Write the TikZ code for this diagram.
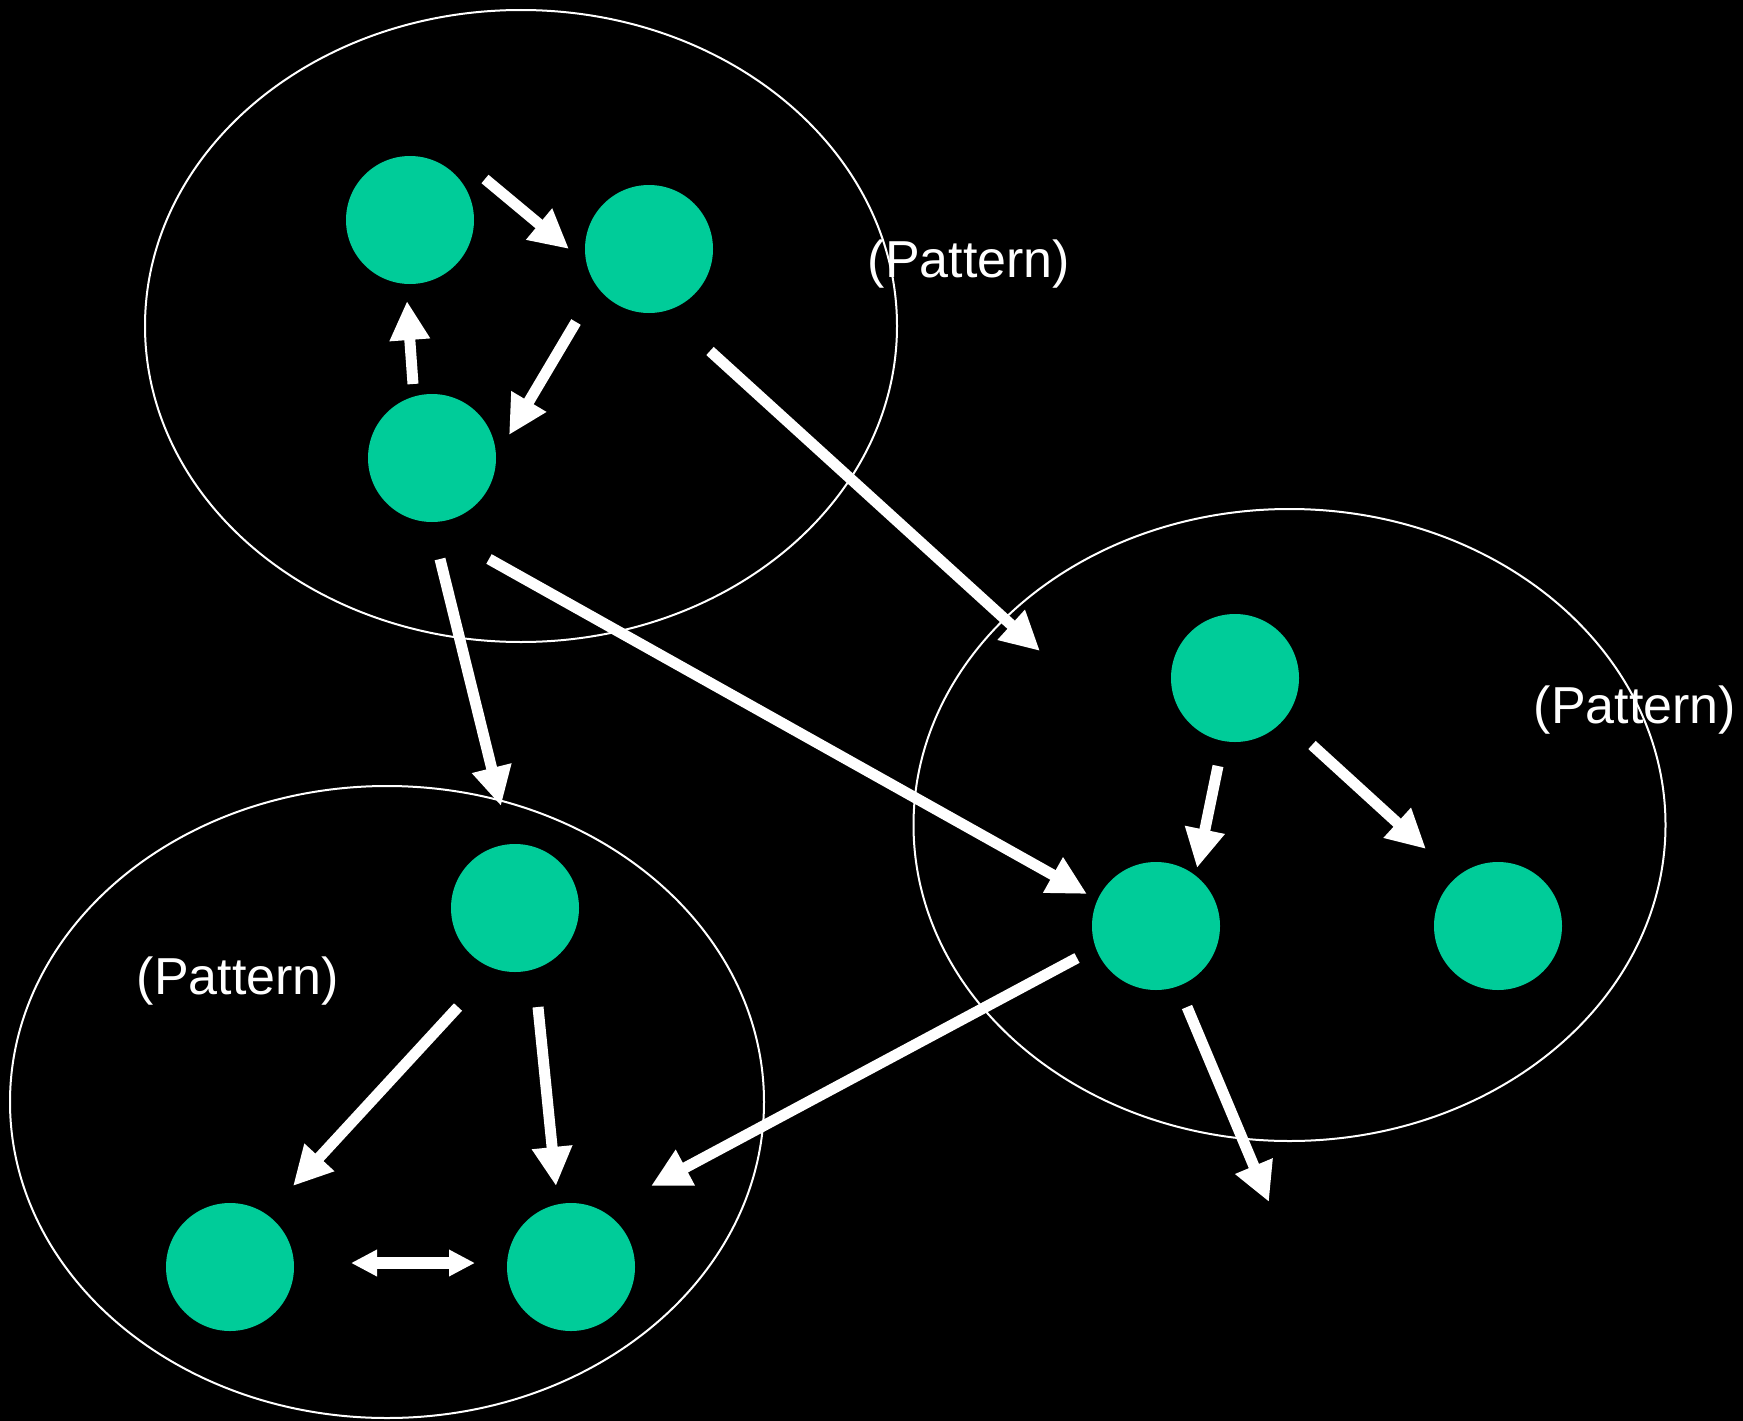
\documentclass[tikz,border=0pt]{standalone}
\usepackage{fontspec}
\setmainfont{Liberation Sans}
\usetikzlibrary{arrows.meta}
\definecolor{nodegreen}{RGB}{0,204,153}
\tikzset{
  group/.style={draw=white, line width=2pt},
  dot/.style={circle, fill=nodegreen, minimum size=128pt, inner sep=0pt},
  flow/.style={draw=white, line width=11pt, -{Triangle[length=39pt,width=38pt]}},
  both/.style={draw=white, line width=12pt, {Triangle[length=26pt,width=25pt]}-{Triangle[length=26pt,width=25pt]}},
  lbl/.style={text=white, font=\fontsize{52}{60}\selectfont, inner sep=0pt}
}
\begin{document}
\begin{tikzpicture}[x=1pt,y=-1pt]
\fill[black] (0,0) rectangle (1743,1421);
\useasboundingbox (0,0) rectangle (1743,1421);
% groups
\draw[group] (521,326) ellipse [x radius=376, y radius=316];
\draw[group] (1289.5,825) ellipse [x radius=376, y radius=316];
\draw[group] (387,1102) ellipse [x radius=377, y radius=316];
% nodes
\node[dot] (a1) at (410,220) {};
\node[dot] (a2) at (649,249) {};
\node[dot] (a3) at (432,458) {};
\node[dot] (b1) at (1235,678) {};
\node[dot] (b2) at (1156,926) {};
\node[dot] (b3) at (1498,926) {};
\node[dot] (c1) at (515,908) {};
\node[dot] (c2) at (230,1267) {};
\node[dot] (c3) at (571,1267) {};
% labels
\node[lbl] (l1) at (969,264) {(Pattern)};
\node[lbl] (l2) at (1635,710) {(Pattern)};
\node[lbl] (l3) at (238,981) {(Pattern)};
% connector ends
\coordinate (s1) at (485,179);  \coordinate (t1) at (569,249);
\coordinate (s2) at (576,322);  \coordinate (t2) at (509,435);
\coordinate (s3) at (413,384);  \coordinate (t3) at (407,301);
\coordinate (s4) at (710,351);  \coordinate (t4) at (1040,651);
\coordinate (s5) at (440,559);  \coordinate (t5) at (501,806);
\coordinate (s6) at (489,559);  \coordinate (t6) at (1087,894);
\coordinate (s7) at (1218,766); \coordinate (t7) at (1197,868);
\coordinate (s8) at (1312,745); \coordinate (t8) at (1426,849);
\coordinate (s9) at (1077,958); \coordinate (t9) at (651,1186);
\coordinate (s10) at (1187,1007); \coordinate (t10) at (1269,1202);
\coordinate (s11) at (458,1007); \coordinate (t11) at (293,1186);
\coordinate (s12) at (538,1007); \coordinate (t12) at (556,1186);
\coordinate (s13) at (351,1263); \coordinate (t13) at (475,1263);
% connectors
\foreach \i in {1,...,12} {\draw[flow] (s\i) -- (t\i);}
\draw[both] (s13) -- (t13);
\end{tikzpicture}
\end{document}
